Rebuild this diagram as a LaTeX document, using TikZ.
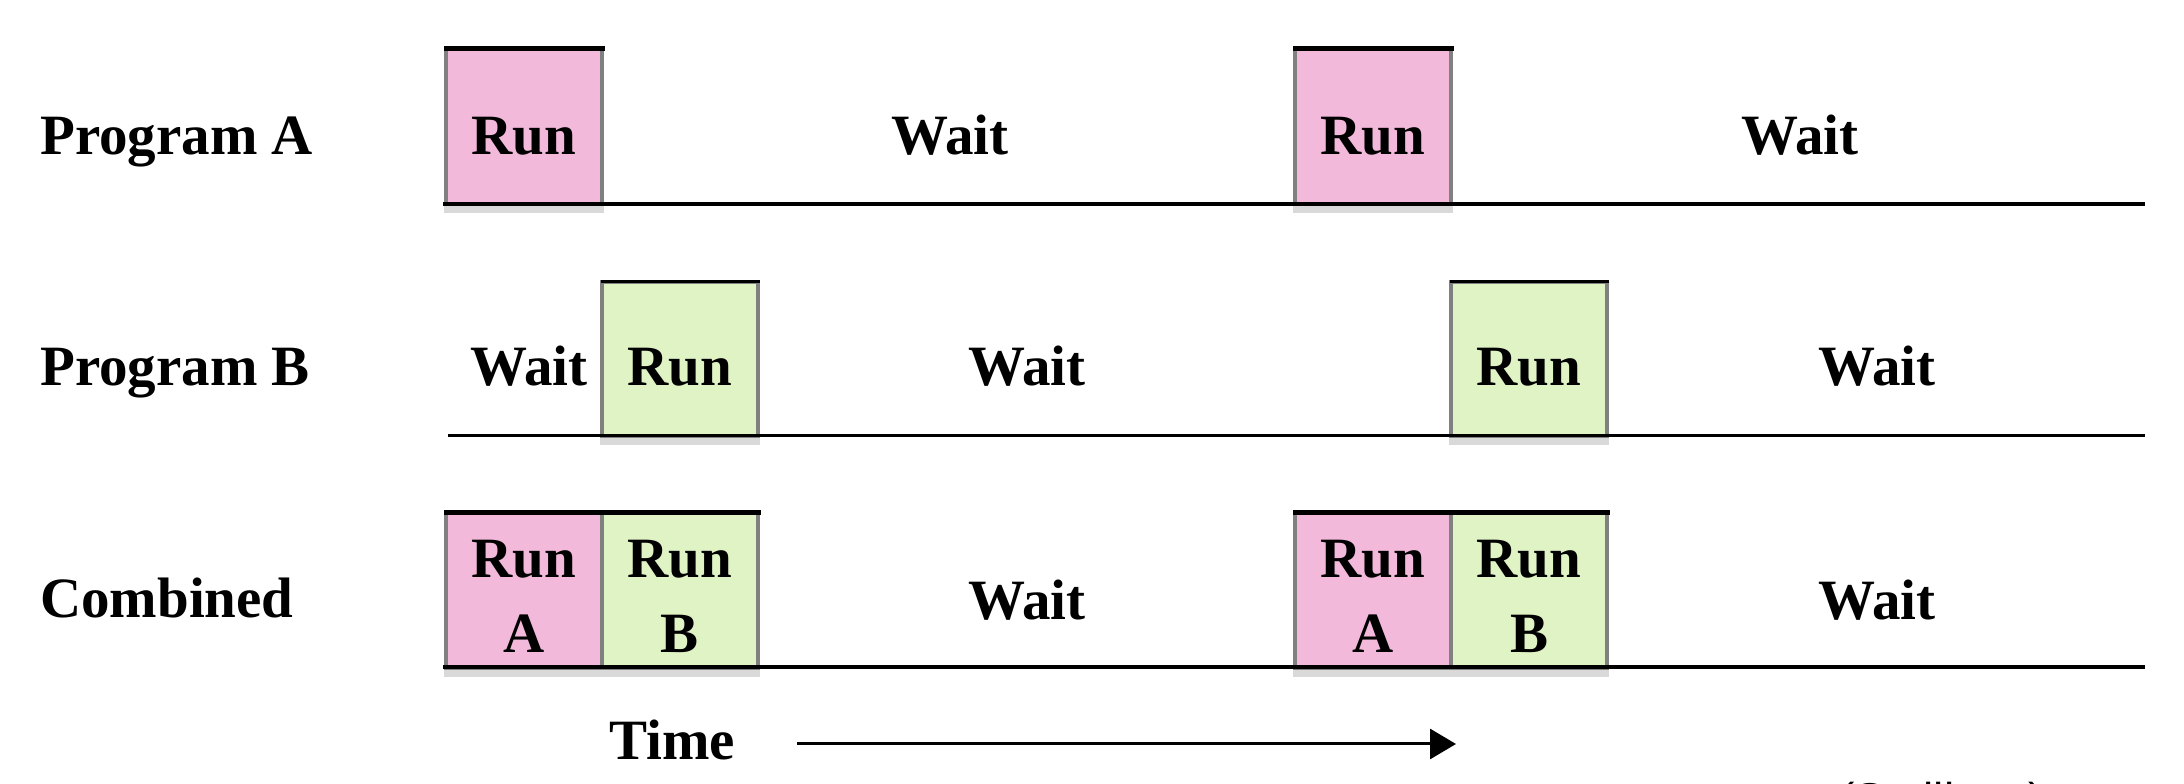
\documentclass[tikz,border=0pt]{standalone}
\usepackage{fontspec}
\setmainfont{Liberation Serif}
\newfontfamily\sansf{Liberation Sans}
\usetikzlibrary{arrows.meta}
\definecolor{runA}{RGB}{243,185,219}
\definecolor{runB}{RGB}{224,243,196}
\definecolor{edgegray}{RGB}{128,128,128}
\begin{document}
\begin{tikzpicture}[x=1pt,y=1pt,
  slot/.style={draw=edgegray, line width=4.5pt, minimum width=156pt, inner sep=0pt, outer sep=0pt},
  slotA/.style={slot, fill=runA},
  slotB/.style={slot, fill=runB},
  hA/.style={minimum height=155pt},
  lbl/.style={font=\fontsize{57}{60}\selectfont\bfseries, inner sep=0pt, anchor=base},
  rowlbl/.style={lbl, anchor=base west},
  topline/.style={line width=5pt, line cap=rect},
  toplinethin/.style={line width=3pt, line cap=rect},
  shadow/.style={fill=gray!30},
  baseline/.style={line width=4.5pt},
  baselinethin/.style={line width=3pt},
  timearrow/.style={line width=3pt, -{Triangle[length=26pt,width=30pt]}}
]
\clip (0,0) rectangle (2184,784);
\fill[white] (0,0) rectangle (2184,784);

% ---------- boxes ----------
\node[slotA, hA] (a1) at (524,657.5) {};
\node[slotA, hA] (a2) at (1373,657.5) {};
\node[slotB, hA] (b1) at (680,424.5) {};
\node[slotB, hA] (b2) at (1529,424.5) {};
\node[slotA, hA] (c1) at (524,193.5) {};
\node[slotB, hA] (c2) at (680,193.5) {};
\node[slotA, hA] (c3) at (1373,193.5) {};
\node[slotB, hA] (c4) at (1529,193.5) {};

% shadows under boxes
\foreach \n in {a1,a2,c1,c2,c3,c4}{
  \fill[shadow] ([xshift=-2pt,yshift=-2pt]\n.south west) rectangle ([xshift=2pt,yshift=-9pt]\n.south east);
}
\foreach \n in {b1,b2}{
  \fill[shadow] ([xshift=-2pt,yshift=-1pt]\n.south west) rectangle ([xshift=2pt,yshift=-8pt]\n.south east);
}

% top black edges
\foreach \n in {a1,a2,c1,c2,c3,c4}{
  \draw[topline] (\n.north west) -- (\n.north east);
}
\foreach \n in {b1,b2}{
  \draw[toplinethin] (\n.north west) -- (\n.north east);
}

% ---------- baselines ----------
\coordinate (la0) at (443,580);
\coordinate (la1) at (2145,580);
\coordinate (lb0) at (448,348);
\coordinate (lb1) at (2145,348);
\coordinate (lc0) at (443,117);
\coordinate (lc1) at (2145,117);
\draw[baseline] (la0) -- (la1);
\draw[baselinethin] (lb0) -- (lb1);
\draw[baseline] (lc0) -- (lc1);

% ---------- row labels ----------
\node[rowlbl] (pa) at (40,629) {Program A};
\node[rowlbl] (pb) at (40,398) {Program B};
\node[rowlbl] (pc) at (40,166) {Combined};

% ---------- row A texts ----------
\node[lbl] (ta1) at (524,629) {Run};
\node[lbl] (tw1) at (950,629) {Wait};
\node[lbl] (ta2) at (1373,629) {Run};
\node[lbl] (tw2) at (1800,629) {Wait};

% ---------- row B texts ----------
\node[lbl] (tbw0) at (529,398) {Wait};
\node[lbl] (tb1) at (680,398) {Run};
\node[lbl] (tbw1) at (1027,398) {Wait};
\node[lbl] (tb2) at (1529,398) {Run};
\node[lbl] (tbw2) at (1877,398) {Wait};

% ---------- row C texts ----------
\node[lbl] (tc1) at (524,206) {Run};
\node[lbl] (tc1b) at (524,131) {A};
\node[lbl] (tc2) at (680,206) {Run};
\node[lbl] (tc2b) at (680,131) {B};
\node[lbl] (tc3) at (1373,206) {Run};
\node[lbl] (tc3b) at (1373,131) {A};
\node[lbl] (tc4) at (1529,206) {Run};
\node[lbl] (tc4b) at (1529,131) {B};
\node[lbl] (tcw1) at (1027,164) {Wait};
\node[lbl] (tcw2) at (1877,164) {Wait};

% ---------- time arrow ----------
\node[rowlbl] (time) at (609,24) {Time};
\coordinate (ts) at (797,40);
\coordinate (te) at (1456,40);
\draw[timearrow] (ts) -- (te);

% ---------- source (cut by the lower edge, as in the original) ----------
\node[inner sep=0pt, anchor=base west, font=\sansf\fontsize{46}{48}\selectfont] (src) at (1839,-31) {(Stallings)};
\end{tikzpicture}
\end{document}
